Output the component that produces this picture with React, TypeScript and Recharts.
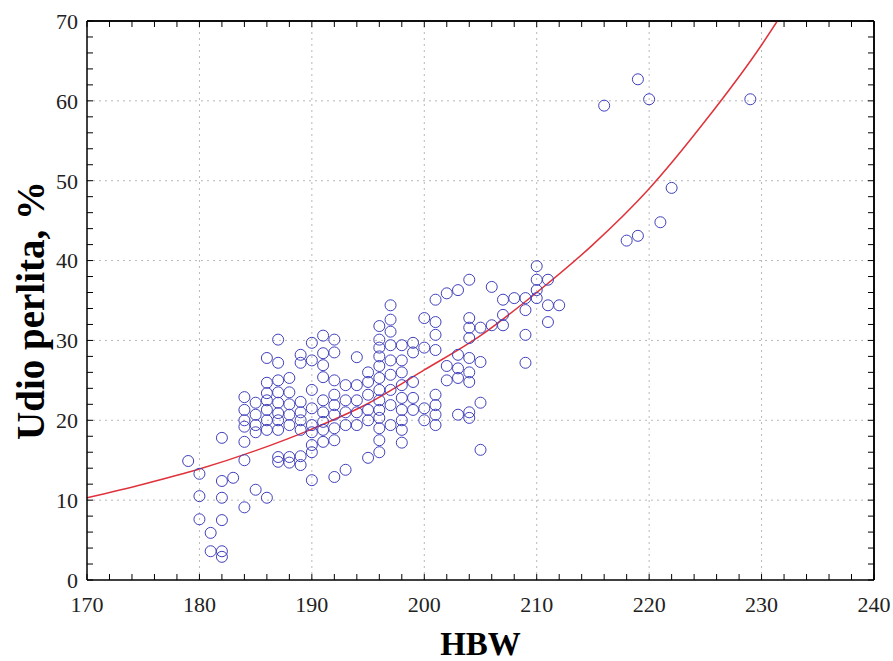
import React from 'react';
import {
  ComposedChart,
  Scatter,
  Line,
  XAxis,
  YAxis,
  ReferenceLine,
} from 'recharts';

// HBW hardness values (one entry per measured column)
const hbwColumns = [
  179, 180, 181, 182, 183, 184, 185, 186, 187, 188, 189, 190, 191, 192, 193, 194, 195, 196,
  197, 198, 199, 200, 201, 202, 203, 204, 205, 206, 207, 208, 209, 210, 211, 212, 216, 218,
  219, 220, 221, 222, 229,
];

const perliteByColumn = [
  [14.9],
  [13.3, 10.5, 7.6],
  [5.9, 3.6],
  [17.8, 12.4, 10.3, 7.5, 3.6, 2.9],
  [12.8],
  [22.9, 21.3, 20.0, 19.2, 17.3, 15.0, 9.1],
  [22.2, 20.7, 19.4, 18.5, 11.3],
  [27.8, 24.7, 23.4, 22.5, 21.3, 20.0, 18.8, 10.3],
  [30.1, 27.2, 25.0, 23.5, 22.2, 20.9, 20.0, 18.8, 15.4, 14.8],
  [25.3, 23.5, 22.0, 20.7, 19.4, 15.4, 14.7],
  [28.2, 27.2, 22.3, 21.0, 20.0, 18.8, 15.5, 14.4],
  [29.7, 27.5, 23.8, 21.5, 19.4, 18.5, 16.9, 16.0, 12.5],
  [30.6, 28.4, 26.9, 25.4, 22.5, 21.0, 19.8, 18.8, 17.3],
  [30.1, 28.5, 25.0, 23.2, 21.9, 20.7, 19.0, 17.5, 12.9],
  [24.4, 22.5, 21.0, 19.4, 13.8],
  [27.9, 24.4, 22.5, 21.0, 19.4],
  [26.0, 24.8, 23.2, 21.3, 20.0, 15.3],
  [31.8, 30.1, 29.1, 28.0, 26.8, 25.3, 23.8, 22.5, 21.3, 20.3, 19.0, 17.5, 16.0],
  [34.4, 32.6, 31.1, 29.4, 27.5, 25.7, 23.8, 21.9, 19.4],
  [29.4, 27.5, 26.0, 24.4, 22.8, 21.3, 20.0, 18.8, 17.2],
  [29.7, 28.5, 24.8, 22.8, 21.3],
  [32.8, 29.1, 21.5, 20.0],
  [35.1, 32.3, 30.7, 28.8, 23.2, 21.9, 20.7, 19.4],
  [35.9, 26.8, 25.0],
  [36.3, 28.2, 26.5, 25.3, 20.7],
  [37.6, 32.8, 31.6, 30.3, 27.8, 26.0, 24.8, 21.0, 20.3],
  [31.6, 27.3, 22.2, 16.3],
  [36.7, 31.9],
  [35.1, 33.2, 31.9],
  [35.3],
  [35.3, 33.8, 30.7, 27.2],
  [39.3, 37.6, 36.3, 35.3],
  [37.6, 34.4, 32.3],
  [34.4],
  [59.4],
  [42.5],
  [62.7, 43.1],
  [60.2],
  [44.8],
  [49.1],
  [60.2],
];

// fitted trend line, read at a few HBW values
const fitHbw = [170, 175, 180, 185, 190, 195, 200, 205, 210, 215, 220, 225, 230, 231.4];
const fitPerlite = [10.3, 12.0, 13.9, 16.2, 18.9, 22.1, 26.3, 30.6, 36.0, 42.0, 49.0, 57.5, 67.0, 70.0];

const xTicks = [
  170, 172, 174, 176, 178, 180, 182, 184, 186, 188, 190, 192, 194, 196, 198, 200, 202, 204,
  206, 208, 210, 212, 214, 216, 218, 220, 222, 224, 226, 228, 230, 232, 234, 236, 238, 240,
];
const yTicks = [
  0, 2, 4, 6, 8, 10, 12, 14, 16, 18, 20, 22, 24, 26, 28, 30, 32, 34, 36, 38, 40, 42, 44, 46,
  48, 50, 52, 54, 56, 58, 60, 62, 64, 66, 68, 70,
];
const xGrid = [180, 190, 200, 210, 220, 230];
const yGrid = [10, 20, 30, 40, 50, 60];

const points = hbwColumns.flatMap((x, i) => perliteByColumn[i].map((y) => ({ x, y })));
const fitData = fitHbw.map((x, i) => ({ x, y: fitPerlite[i] }));

const majorOnly = (v: number) => (v % 10 === 0 ? String(v) : '');
const noLabel = () => '';

const serif = '"Liberation Serif", "Times New Roman", serif';
const tickFont = { fontFamily: serif, fontSize: 22, fill: '#222' };
const frame = { stroke: '#000', strokeWidth: 1.5 };

const OpenCircle = (props: any) => {
  const { cx, cy } = props;
  return <circle cx={cx} cy={cy} r={5.5} fill="none" stroke="#4040bc" strokeWidth={1} />;
};

const XTitle = (props: any) => {
  const vb = props.viewBox;
  return (
    <text
      x={vb.x + vb.width / 2}
      y={vb.y + vb.height - 6}
      textAnchor="middle"
      fontFamily={serif}
      fontWeight="bold"
      fontSize={33}
      fill="#000"
    >
      HBW
    </text>
  );
};

const YTitle = (props: any) => {
  const vb = props.viewBox;
  const cx = vb.x + 30;
  const cy = vb.y + vb.height / 2 + 10;
  return (
    <text
      x={cx}
      y={cy}
      transform={`rotate(-90, ${cx}, ${cy})`}
      textAnchor="middle"
      dominantBaseline="central"
      fontFamily={serif}
      fontWeight="bold"
      fontSize={39}
      fill="#000"
    >
      Udio perlita, %
    </text>
  );
};

export default function App() {
  return (
    <div style={{ position: 'absolute', left: 0, top: 0, width: 893, height: 661, background: '#fff' }}>
      <ComposedChart width={893} height={661} margin={{ top: 20, right: 18, bottom: 0, left: 0 }}>
        <XAxis
          xAxisId="b"
          dataKey="x"
          type="number"
          domain={[170, 240]}
          ticks={xTicks}
          interval={0}
          allowDataOverflow
          height={81}
          tickSize={-6}
          tickMargin={22}
          tickFormatter={majorOnly}
          tick={tickFont}
          axisLine={frame}
          tickLine={{ stroke: '#000' }}
          label={{ content: XTitle }}
        />
        <XAxis
          xAxisId="t"
          orientation="top"
          dataKey="x"
          type="number"
          domain={[170, 240]}
          ticks={xTicks}
          interval={0}
          allowDataOverflow
          height={1}
          tickSize={-6}
          tickFormatter={noLabel}
          axisLine={frame}
          tickLine={{ stroke: '#000' }}
        />
        <YAxis
          yAxisId="l"
          type="number"
          domain={[0, 70]}
          ticks={yTicks}
          interval={0}
          allowDataOverflow
          width={87}
          tickSize={-6}
          tickMargin={15}
          tickFormatter={majorOnly}
          tick={tickFont}
          axisLine={frame}
          tickLine={{ stroke: '#000' }}
          label={{ content: YTitle }}
        />
        <YAxis
          yAxisId="r"
          orientation="right"
          type="number"
          domain={[0, 70]}
          ticks={yTicks}
          interval={0}
          allowDataOverflow
          width={1}
          tickSize={-6}
          tickFormatter={noLabel}
          axisLine={frame}
          tickLine={{ stroke: '#000' }}
        />
        {xGrid.map((v) => (
          <ReferenceLine key={'gx' + v} xAxisId="b" yAxisId="l" x={v} stroke="#b8b8b8" strokeDasharray="2 4" />
        ))}
        {yGrid.map((v) => (
          <ReferenceLine key={'gy' + v} xAxisId="b" yAxisId="l" y={v} stroke="#b8b8b8" strokeDasharray="2 4" />
        ))}
        <ReferenceLine xAxisId="b" yAxisId="l" x={240} stroke="#000" strokeWidth={1.5} />
        <ReferenceLine xAxisId="b" yAxisId="l" y={70} stroke="#000" strokeWidth={1.5} />
        <Scatter
          xAxisId="b"
          yAxisId="l"
          data={points}
          dataKey="y"
          shape={OpenCircle}
          isAnimationActive={false}
        />
        <Scatter
          xAxisId="t"
          yAxisId="r"
          data={points}
          dataKey="y"
          shape={() => null}
          isAnimationActive={false}
        />
        <Line
          xAxisId="b"
          yAxisId="l"
          data={fitData}
          dataKey="y"
          type="monotone"
          stroke="#e0323a"
          strokeWidth={1.5}
          dot={false}
          activeDot={false}
          isAnimationActive={false}
        />
      </ComposedChart>
    </div>
  );
}
